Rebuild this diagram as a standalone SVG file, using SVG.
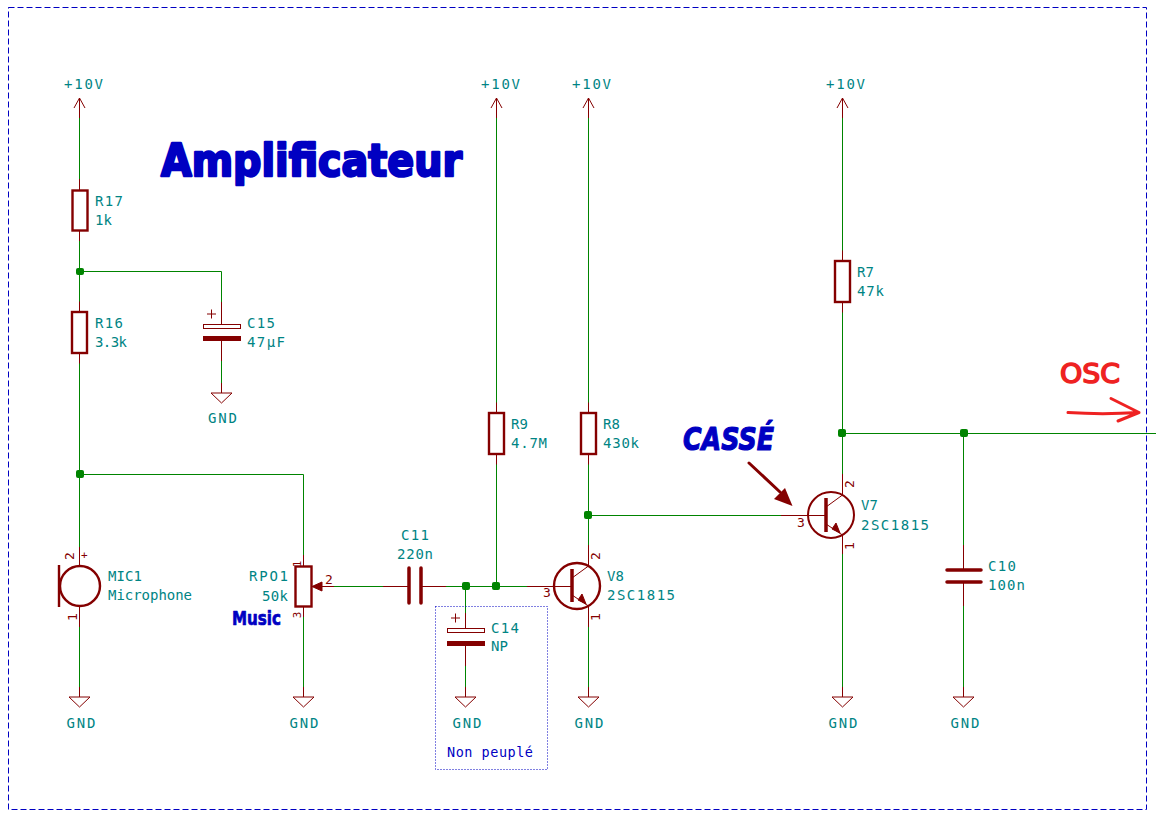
<svg xmlns="http://www.w3.org/2000/svg" xmlns:xlink="http://www.w3.org/1999/xlink" width="1156" height="819" viewBox="0 0 1156 819">
<style>
.s{fill:none;stroke:#840000;stroke-width:1}
.b{fill:none;stroke:#840000;stroke-width:2.4}
.p{fill:#840000;stroke:#840000;stroke-width:1}
.w{fill:none;stroke:#008400;stroke-width:1}
.j{fill:#008400}
text{font-family:"DejaVu Sans Mono","Liberation Mono",monospace}
.t{font-size:14px;fill:#008484}
.n{font-size:13px;fill:#840000}
.m{font-size:11px;fill:#840000}
.c{text-anchor:middle}
.a{fill:#0000c2;font-family:"DejaVu Sans","Liberation Sans",sans-serif;font-weight:bold;stroke:#0000c2;stroke-linejoin:round}
</style>
<defs>
<g id="gnd"><path class="s" d="M0-10V0M-10.5 0H10.5L0 10Z"/></g>
<g id="pwr"><path class="s" d="M0 20V0M-5.500 10L0 0L5.500 10"/></g>
<g id="res"><path class="s" d="M0-31V-21M0 21V31"/><rect class="b" x="-7.500" y="-20.500" width="15" height="41"/></g>
</defs>
<rect id="frame" x="8.500" y="7.500" width="1138" height="802" fill="none" stroke="#0000c2" stroke-width="1" stroke-dasharray="6 3"/>
<g id="connectors">
<path class="w" d="M79.500 118V179M79.500 241V302M79.500 363V547M79.500 627V687M79.500 271.500H221.500V302M221.500 361V383M79.500 474.500H303.500V555M303.500 617V687M334 586.500H383M446 586.500H527M496.500 118V403M496.500 464V586.500M465.500 586.500V613M465.500 666V687M588.500 118V403M588.500 464V545M588.500 627V687M588.500 515.500H781M842.500 118V251M842.500 312V474M842.500 554V687M842.500 433.500H1156M963.500 433.500V545M963.500 606V687"/>
<rect class="j" x="76" y="268" width="8" height="7" rx="2"/>
<rect class="j" x="76" y="470" width="8" height="8" rx="2"/>
<rect class="j" x="462" y="582" width="8" height="8" rx="2"/>
<rect class="j" x="492" y="582" width="8" height="8" rx="2"/>
<rect class="j" x="584" y="511" width="8" height="8" rx="2"/>
<rect class="j" x="838" y="429" width="8" height="8" rx="2"/>
<rect class="j" x="960" y="429" width="8" height="8" rx="2"/>
</g>
<g id="pwr1"><use xlink:href="#pwr" x="79.500" y="98"/><text class="t" x="64" y="89" textLength="39">+10V</text></g>
<g id="pwr2"><use xlink:href="#pwr" x="496.500" y="98"/><text class="t" x="481" y="89" textLength="39">+10V</text></g>
<g id="pwr3"><use xlink:href="#pwr" x="588.500" y="98"/><text class="t" x="572" y="89" textLength="39">+10V</text></g>
<g id="pwr4"><use xlink:href="#pwr" x="842.500" y="98"/><text class="t" x="826" y="89" textLength="39">+10V</text></g>
<g id="R17"><path class="s" d="M79.500 179V190M79.500 231V241"/><rect class="b" x="72.500" y="190.500" width="15" height="40"/><text class="t" x="95" y="206" textLength="28">R17</text><text class="t" x="95" y="225">1k</text></g>
<g id="R16"><use xlink:href="#res" x="79.500" y="332.500"/><text class="t" x="95" y="328" textLength="28">R16</text><text class="t" x="95" y="347" textLength="32">3.3k</text></g>
<g id="R9"><use xlink:href="#res" x="496.500" y="433.500"/><text class="t" x="511" y="429">R9</text><text class="t" x="511" y="448" textLength="36">4.7M</text></g>
<g id="R8"><use xlink:href="#res" x="588.500" y="433.500"/><text class="t" x="603" y="429">R8</text><text class="t" x="603" y="448" textLength="36">430k</text></g>
<g id="R7"><use xlink:href="#res" x="842.500" y="281.500"/><text class="t" x="857" y="277">R7</text><text class="t" x="857" y="296" textLength="27">47k</text></g>
<g id="C15"><path class="s" d="M221.500 302V324M221.500 341V361M207 314H216M211.500 309.500V318.500"/><rect class="s" x="203.500" y="324.500" width="37" height="4"/><rect class="p" x="203.500" y="336.500" width="37" height="4"/><text class="t" x="247" y="328" textLength="28">C15</text><text class="t" x="247" y="347" textLength="38">47µF</text><use xlink:href="#gnd" x="221.500" y="393"/><text class="t" x="208" y="423" textLength="29">GND</text></g>
<g id="MIC1"><path class="s" d="M79.500 547V566M79.500 606V627"/><circle class="b" cx="80" cy="586" r="20"/><path class="b" d="M59 565V607"/><text class="n c" transform="translate(73.500,556) rotate(-90)" y="0" x="0">2</text><text class="m" x="81" y="559">+</text><text class="n c" transform="translate(77,617) rotate(-90)">1</text><text class="t" x="108" y="581" textLength="34">MIC1</text><text class="t" x="108" y="600" textLength="84">Microphone</text></g>
<g id="gnd1"><use xlink:href="#gnd" x="79.500" y="697"/><text class="t" x="66.500" y="728" textLength="29">GND</text></g>
<g id="RPO1"><path class="s" d="M303.500 555V566M303.500 607V617M312 586.500H334"/><rect class="b" x="295.500" y="566.500" width="16" height="40"/><path class="p" d="M312 586.500L322 582V591Z"/><text class="t" x="249" y="581" textLength="39">RPO1</text><text class="t" x="262" y="601" textLength="26">50k</text><text class="n" x="325" y="584" font-size="14">2</text><text class="m c" transform="translate(301,564) rotate(-90)">1</text><text class="m c" transform="translate(301,615) rotate(-90)">3</text></g>
<g id="gnd2"><use xlink:href="#gnd" x="303.500" y="697"/><text class="t" x="289.500" y="728" textLength="29">GND</text></g>
<g id="C11"><path class="s" d="M383 586.500H409M421 586.500H446"/><path class="b" d="M409 568V603M421 568V603" stroke-linecap="round" style="stroke-width:3.500"/><text class="t" x="401" y="540" textLength="28">C11</text><text class="t" x="397" y="559" textLength="36">220n</text></g>
<g id="C14"><path class="s" d="M465.500 613V628M465.500 646V666M451 618H460M455.500 613.500V622.500"/><rect class="s" x="447.500" y="628.500" width="37" height="4"/><rect class="p" x="447.500" y="641.500" width="37" height="4"/><text class="t" x="491" y="633" textLength="28">C14</text><text class="t" x="491" y="651">NP</text><use xlink:href="#gnd" x="465.500" y="697"/><text class="t" x="452.500" y="728" textLength="29">GND</text><rect x="435.500" y="606.500" width="112" height="163" fill="none" stroke="#0000c2" stroke-width="1" stroke-dasharray="1 2"/><text x="447" y="757" font-size="13.500px" fill="#0000c2" textLength="86">Non peuplé</text></g>
<g id="V8"><path class="s" d="M527 586.500H572M588.500 545V566M588.500 606V627M572 578L588.500 566M572 595L588.500 606"/><circle cx="577" cy="586" r="23" class="b"/><path class="b" d="M572 569V602" style="stroke-width:3.500"/><path class="p" d="M586 604L578 600L582 594Z"/><text class="n" x="543" y="597">3</text><text class="n c" transform="translate(600,556) rotate(-90)">2</text><text class="n c" transform="translate(600,617) rotate(-90)">1</text><text class="t" x="607" y="581">V8</text><text class="t" x="607" y="600" textLength="68">2SC1815</text></g>
<g id="gnd3"><use xlink:href="#gnd" x="588.500" y="697"/><text class="t" x="574.500" y="728" textLength="29">GND</text></g>
<g id="V7"><path class="s" d="M781 515.500H826M842.500 474V495M842.500 535V554M826 507L842.500 495M826 524L842.500 535"/><circle cx="831" cy="515" r="23" class="s" style="stroke-width:2"/><path class="b" d="M826 498V532" style="stroke-width:3.500"/><path class="p" d="M840 533L832 529L836 523Z"/><text class="n" x="797" y="527">3</text><text class="n c" transform="translate(854,484) rotate(-90)">2</text><text class="n c" transform="translate(854,546) rotate(-90)">1</text><text class="t" x="861" y="510">V7</text><text class="t" x="861" y="530" textLength="68">2SC1815</text></g>
<g id="gnd4"><use xlink:href="#gnd" x="842.500" y="697"/><text class="t" x="828.500" y="728" textLength="29">GND</text></g>
<g id="C10"><path class="s" d="M963.500 545V570M963.500 582V606"/><path class="b" d="M947 570H981M947 582H981" stroke-linecap="round" style="stroke-width:3.500"/><text class="t" x="988" y="571" textLength="28">C10</text><text class="t" x="988" y="590" textLength="37">100n</text><use xlink:href="#gnd" x="963.500" y="697"/><text class="t" x="950.500" y="728" textLength="29">GND</text></g>
<g id="notes">
<text class="a" x="161" y="176" font-size="44px" stroke-width="2.500" textLength="301" lengthAdjust="spacingAndGlyphs">Amplificateur</text>
<text class="a" x="232" y="625" font-size="19px" stroke-width="0.700" textLength="49" lengthAdjust="spacingAndGlyphs">Music</text>
<text class="a" x="683" y="450" font-size="32px" font-style="italic" stroke-width="1.200" textLength="91" lengthAdjust="spacingAndGlyphs">CASSÉ</text>
<path d="M749 463L780 492" fill="none" stroke="#840000" stroke-width="3" stroke-linecap="round"/>
<path d="M792.500 506L774 499L785 488Z" fill="#840000"/>
<text x="1060" y="383" font-size="26px" fill="#ee2222" stroke="#ee2222" stroke-width="1.500" stroke-linejoin="round" textLength="60" lengthAdjust="spacingAndGlyphs" style="font-family:'DejaVu Sans',sans-serif">OSC</text>
<path d="M1068 412.500C1090 414 1115 414 1139 412.500M1111 398.500L1139 412.500L1118 421" fill="none" stroke="#ee2222" stroke-width="3" stroke-linecap="round" stroke-linejoin="round"/>
</g>
</svg>
